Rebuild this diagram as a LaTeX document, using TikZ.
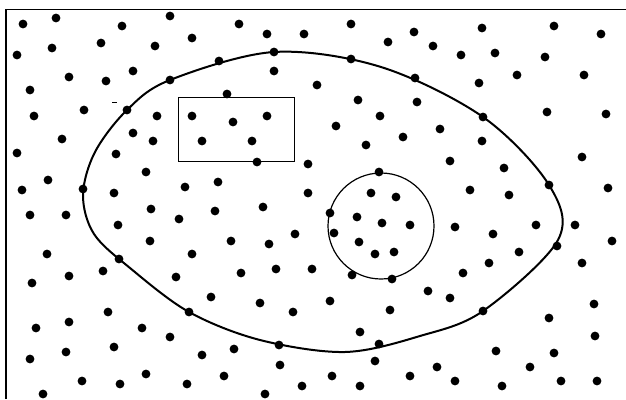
\documentclass[tikz,border=0pt]{standalone}
\begin{document}
\begin{tikzpicture}[x=1pt,y=-1pt,
  dotstyle/.style={fill=black},
  framestyle/.style={line width=1.8pt},
  bigloop/.style={line width=2pt},
  thinline/.style={line width=1pt}]
\useasboundingbox (0,0) rectangle (626,399);
\fill[white] (0,0) rectangle (626,399);
% frame (top and left only)
\draw[framestyle] (6,399) -- (6,9.5) -- (626,9.5);
% ellipse-like loop
\draw[bigloop] plot[smooth cycle, tension=0.55] coordinates {
 (83,195) (95,152) (127,110) (170,80) (274,52) (381,67)
 (483,117) (549,185) (558,240) (483,311)
 (420,336) (345,352) (260,340) (189,312) (130,268) (94,234)};
% rectangle
\draw[thinline] (178,97) rectangle (294,161);
% circle
\draw[line width=1.2pt] (381,226) circle (53pt);
% small dash mark
\draw[line width=1pt] (112,102) -- (117,102);
% dots
\foreach \x/\y in {
23/24,56/18,122/26,170/16,192/38,17/55,52/48,101/43,155/46,69/77,106/81,133/71,
170/80,30/90,34/116,84/110,127/110,157/116,192/116,202/141,62/139,133/133,153/141,
17/153,116/154,146/172,48/180,22/190,83/189,114/193,185/187,
239/24,267/34,304/34,351/24,388/42,414/32,274/52,219/61,351/59,415/78,274/71,317/85,
227/94,358/100,417/102,233/122,267/116,380/116,336/126,252/141,403/137,366/145,
257/162,308/164,218/182,308/193,379/172,371/193,396/197,
482/28,554/26,601/34,433/46,461/55,495/53,545/57,479/83,517/75,584/75,483/117,
547/112,606/114,440/129,482/141,450/161,504/168,582/157,549/185,470/190,509/195,608/188,
30/215,66/215,118/225,151/209,179/219,150/241,47/254,119/259,192/254,32/283,69/276,
103/271,176/277,189/312,108/312,36/328,69/322,142/328,170/337,30/359,66/352,114/347,
202/355,82/381,120/384,146/374,187/384,43/394,
215/211,263/207,330/213,357/217,382/223,410/225,231/241,269/244,295/234,334/233,
359/242,375/254,394/252,241/273,276/269,312/269,352/275,392/279,211/297,260/303,
293/312,330/301,390/310,360/332,279/345,379/344,234/349,280/365,375/361,224/376,
302/386,332/376,360/386,410/376,265/394,
455/227,493/234,536/225,575/225,612/241,557/246,519/252,489/263,463/273,582/263,
428/291,450/298,483/311,594/304,549/318,595/336,496/351,554/353,437/367,530/367,
455/381,502/386,561/381,597/381}
  \fill[dotstyle] (\x,\y) circle (4.4pt);
\end{tikzpicture}
\end{document}
